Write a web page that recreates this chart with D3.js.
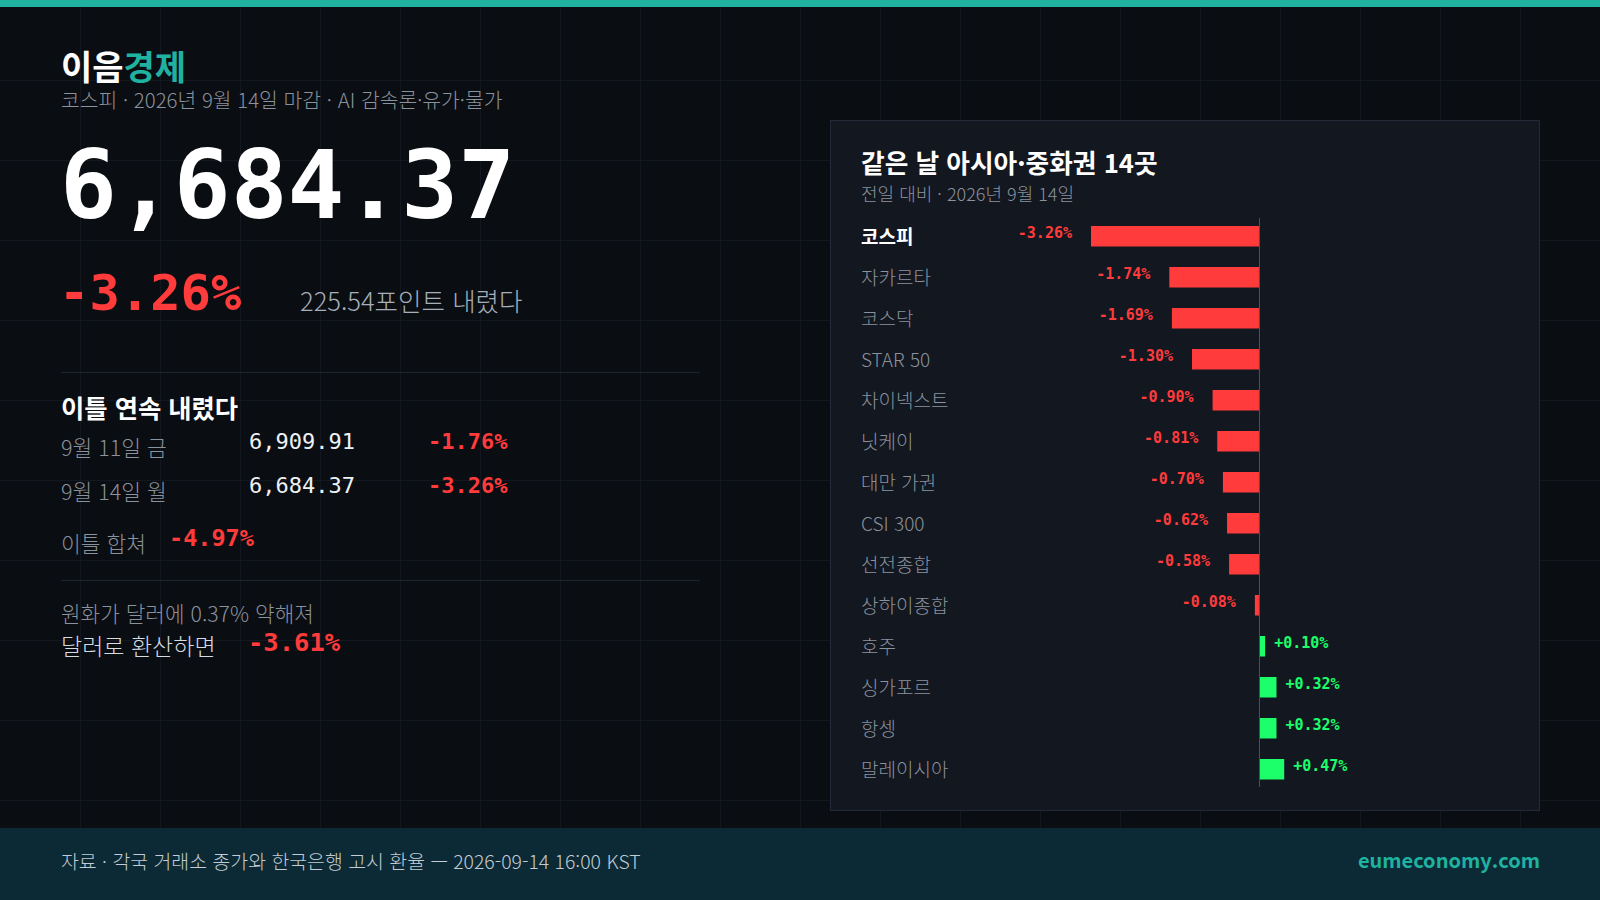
<!DOCTYPE html>
<html lang="ko">
<head>
<meta charset="utf-8">
<script src="https://cdn.jsdelivr.net/npm/d3@7/dist/d3.min.js"></script>
<style>
  html, body { margin: 0; padding: 0; background: #0a0d12; }
  svg { display: block; }
  .sans { font-family: "Noto Sans CJK KR", "Noto Sans", sans-serif; }
  .mono { font-family: "DejaVu Sans Mono", monospace; }
</style>
</head>
<body>
<svg id="chart" width="1600" height="900"></svg>
<script>
// ---- data ----
const markets = ["코스피","자카르타","코스닥","STAR 50","차이넥스트","닛케이","대만 가권","CSI 300","선전종합","상하이종합","호주","싱가포르","항셍","말레이시아"];
const changes = [-3.26,-1.74,-1.69,-1.30,-0.90,-0.81,-0.70,-0.62,-0.58,-0.08,0.10,0.32,0.32,0.47];
const streakDates = ["9월 11일 금","9월 14일 월"];
const streakCloses = [6909.91, 6684.37];
const streakChanges = [-1.76, -3.26];
const kospiClose = 6684.37;
const kospiChange = -3.26;
const pointDrop = 225.54;
const twoDayChange = -4.97;
const wonWeaken = 0.37;
const usdChange = -3.61;

const C = {
  bg: "#0a0d12", grid: "#121720", teal: "#20b2a0", white: "#ffffff",
  gray: "#8a929d", light: "#a6afba", red: "#ff3b3b", green: "#1cff6a",
  panel: "#131720", panelStroke: "#232938", sep: "#1e2330", axis: "#4a5263",
  footer: "#0c2a35"
};

const svg = d3.select("#chart");
const fmtNum = d3.format(",.2f");
const fmtPct = v => (v > 0 ? "+" : v < 0 ? "-" : "") + Math.abs(v).toFixed(2) + "%";

// background + grid
svg.append("rect").attr("width", 1600).attr("height", 900).attr("fill", C.bg);
const gridG = svg.append("g").attr("stroke", C.grid).attr("stroke-width", 1);
gridG.selectAll("line.v").data(d3.range(80, 1600, 80)).join("line")
  .attr("x1", d => d + 0.5).attr("x2", d => d + 0.5).attr("y1", 0).attr("y2", 900);
gridG.selectAll("line.h").data(d3.range(80, 900, 80)).join("line")
  .attr("y1", d => d + 0.5).attr("y2", d => d + 0.5).attr("x1", 0).attr("x2", 1600);

// top bar
svg.append("rect").attr("x", 0).attr("y", 0).attr("width", 1600).attr("height", 7).attr("fill", C.teal);

// header
const brand = svg.append("text").attr("class", "sans").attr("x", 61).attr("y", 80)
  .attr("font-size", 34).attr("font-weight", 700);
brand.append("tspan").attr("fill", C.white).text("이음");
brand.append("tspan").attr("fill", C.teal).text("경제");

svg.append("text").attr("class", "sans").attr("x", 61).attr("y", 108)
  .attr("font-size", 20.4).attr("font-weight", 300).attr("fill", C.gray)
  .text("코스피 · 2026년 9월 14일 마감 · AI 감속론·유가·물가");

svg.append("text").attr("class", "mono").attr("x", 60).attr("y", 218)
  .attr("font-size", 94.5).attr("font-weight", 700).attr("fill", C.white)
  .text(fmtNum(kospiClose));

svg.append("text").attr("class", "mono").attr("x", 59).attr("y", 310)
  .attr("font-size", 50.5).attr("font-weight", 700).attr("fill", C.red)
  .text(fmtPct(kospiChange));

svg.append("text").attr("class", "sans").attr("x", 300).attr("y", 311)
  .attr("font-size", 25.5).attr("font-weight", 300).attr("fill", C.light)
  .text(pointDrop.toFixed(2) + "포인트 내렸다");

// separators
svg.append("line").attr("x1", 61).attr("x2", 700).attr("y1", 372.5).attr("y2", 372.5).attr("stroke", C.sep);
svg.append("line").attr("x1", 61).attr("x2", 700).attr("y1", 580.5).attr("y2", 580.5).attr("stroke", C.sep);

// streak block
svg.append("text").attr("class", "sans").attr("x", 61).attr("y", 418)
  .attr("font-size", 25.3).attr("font-weight", 700).attr("fill", C.white)
  .text("이틀 연속 내렸다");

const rowY = d3.scalePoint().domain(streakDates).range([0, 44]);
const rows = svg.append("g");
rows.selectAll("text.d").data(streakDates).join("text")
  .attr("class", "sans").attr("x", 61).attr("y", d => 456 + rowY(d))
  .attr("font-size", 21.5).attr("font-weight", 300).attr("fill", C.gray).text(d => d);
rows.selectAll("text.c").data(streakCloses).join("text")
  .attr("class", "mono").attr("x", 249).attr("y", (d, i) => 449 + rowY(streakDates[i]))
  .attr("font-size", 22).attr("fill", "#eef1f4").text(d => fmtNum(d));
rows.selectAll("text.p").data(streakChanges).join("text")
  .attr("class", "mono").attr("x", 428).attr("y", (d, i) => 449 + rowY(streakDates[i]))
  .attr("font-size", 22).attr("font-weight", 700).attr("fill", C.red).text(d => fmtPct(d));

svg.append("text").attr("class", "sans").attr("x", 61).attr("y", 552)
  .attr("font-size", 21.5).attr("font-weight", 300).attr("fill", C.gray).text("이틀 합쳐");
svg.append("text").attr("class", "mono").attr("x", 169).attr("y", 546)
  .attr("font-size", 23.5).attr("font-weight", 700).attr("fill", C.red).text(fmtPct(twoDayChange));

svg.append("text").attr("class", "sans").attr("x", 61).attr("y", 622)
  .attr("font-size", 21.3).attr("font-weight", 300).attr("fill", C.gray)
  .text("원화가 달러에 " + wonWeaken.toFixed(2) + "% 약해져");
svg.append("text").attr("class", "sans").attr("x", 61).attr("y", 655)
  .attr("font-size", 23).attr("font-weight", 300).attr("fill", "#d6dce2").text("달러로 환산하면");
svg.append("text").attr("class", "mono").attr("x", 248).attr("y", 651)
  .attr("font-size", 25.5).attr("font-weight", 700).attr("fill", C.red).text(fmtPct(usdChange));

// right panel
svg.append("rect").attr("x", 830.5).attr("y", 120.5).attr("width", 709).attr("height", 690)
  .attr("fill", C.panel).attr("stroke", C.panelStroke);
svg.append("text").attr("class", "sans").attr("x", 861).attr("y", 173)
  .attr("font-size", 25.7).attr("font-weight", 700).attr("fill", C.white)
  .text("같은 날 아시아·중화권 14곳");
svg.append("text").attr("class", "sans").attr("x", 861).attr("y", 201)
  .attr("font-size", 18).attr("font-weight", 300).attr("fill", C.gray)
  .text("전일 대비 · 2026년 9월 14일");

const y = d3.scaleBand().domain(markets).range([215.75, 215.75 + 41 * 14])
  .paddingInner(0.5).paddingOuter(0.25);
const x = d3.scaleLinear().domain([d3.min(changes), d3.max(changes)]).range([1091, 1283.2]);
const x0 = x(0);

const bars = svg.append("g");
bars.selectAll("rect").data(markets).join("rect")
  .attr("x", (d, i) => changes[i] < 0 ? x(changes[i]) : x0 + 1)
  .attr("y", d => y(d))
  .attr("width", (d, i) => Math.abs(x(changes[i]) - x0))
  .attr("height", y.bandwidth())
  .attr("fill", (d, i) => changes[i] < 0 ? C.red : C.green);

svg.append("line").attr("x1", x0 + 0.5).attr("x2", x0 + 0.5).attr("y1", 218).attr("y2", 787)
  .attr("stroke", C.axis).attr("stroke-width", 1);

svg.append("g").selectAll("text").data(markets).join("text")
  .attr("class", "sans").attr("x", 861).attr("y", d => y(d) + y.bandwidth() / 2 + 8)
  .attr("font-size", 19)
  .attr("font-weight", (d, i) => i === 0 ? 700 : 300)
  .attr("fill", (d, i) => i === 0 ? C.white : C.gray)
  .text(d => d);

svg.append("g").selectAll("text").data(markets).join("text")
  .attr("class", "mono").attr("font-size", 15).attr("font-weight", 700)
  .attr("x", (d, i) => changes[i] < 0 ? x(changes[i]) - 19 : x(changes[i]) + 10)
  .attr("y", d => y(d) + y.bandwidth() / 2 + 1.5)
  .attr("text-anchor", (d, i) => changes[i] < 0 ? "end" : "start")
  .attr("fill", (d, i) => changes[i] < 0 ? C.red : C.green)
  .text((d, i) => fmtPct(changes[i]));

// footer
svg.append("rect").attr("x", 0).attr("y", 828).attr("width", 1600).attr("height", 72).attr("fill", C.footer);
svg.append("text").attr("class", "sans").attr("x", 61).attr("y", 869)
  .attr("font-size", 19.4).attr("font-weight", 300).attr("fill", "#c3ccd4")
  .text("자료 · 각국 거래소 종가와 한국은행 고시 환율 — 2026-09-14 16:00 KST");
svg.append("text").attr("class", "sans").attr("x", 1540).attr("y", 868)
  .attr("text-anchor", "end").attr("font-size", 20).attr("font-weight", 700).attr("fill", C.teal)
  .text("eumeconomy.com");
</script>
</body>
</html>
